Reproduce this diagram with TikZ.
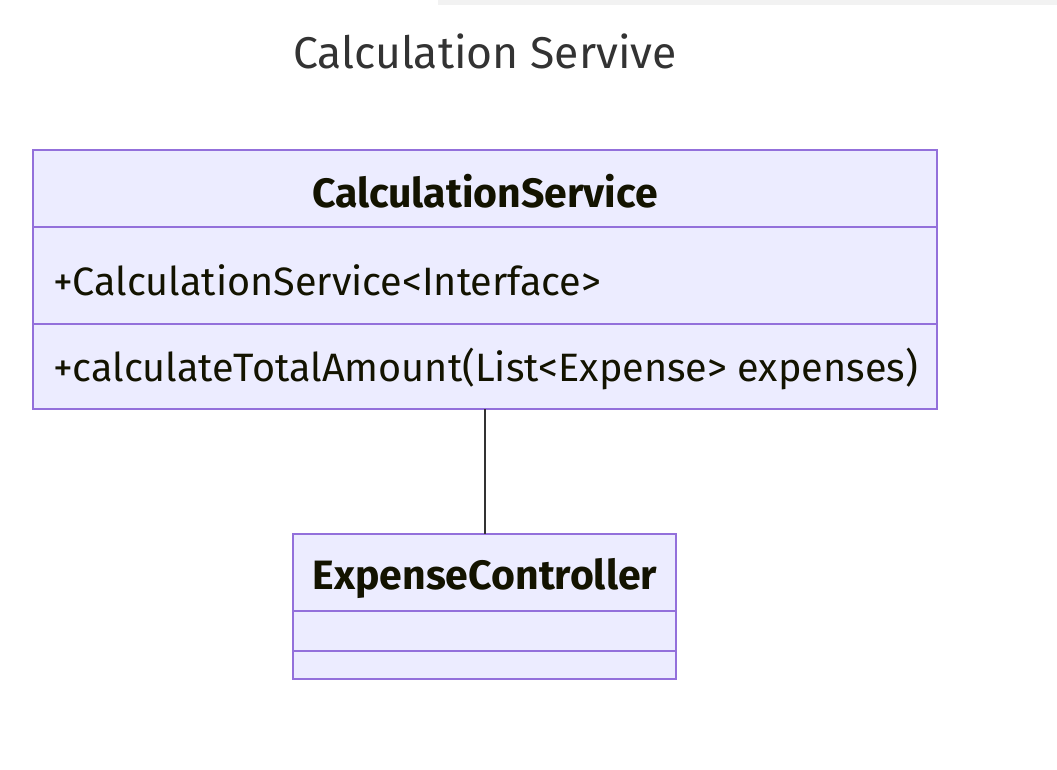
\documentclass[tikz,border=0pt]{standalone}
\usepackage{fontspec}
\setmainfont{Fira Sans}
\definecolor{boxfill}{HTML}{ECECFF}
\definecolor{boxline}{HTML}{9370DB}
\definecolor{conn}{HTML}{333333}
\definecolor{txt}{HTML}{131300}
\definecolor{strip}{HTML}{F2F2F2}
\begin{document}
\begin{tikzpicture}[x=1pt,y=-1pt,
  classbox/.style={draw=boxline,fill=boxfill,line width=2pt},
  divider/.style={draw=boxline,line width=2pt},
  classname/.style={font=\fontsize{41}{48}\selectfont\bfseries,text=txt,inner sep=0pt},
  member/.style={font=\fontsize{39.6}{46}\selectfont,text=txt,inner sep=0pt,anchor=west},
  titletext/.style={font=\fontsize{44.5}{52}\selectfont,text=conn,inner sep=0pt}]
\useasboundingbox (0,0) rectangle (1057,770);
\fill[white] (0,0) rectangle (1057,770);
\fill[strip] (438,0) rectangle (1057,5);
\node[titletext] (title) at (485,51) {Calculation Servive};
% CalculationService
\draw[classbox] (33,150) rectangle (937,409);
\coordinate (cs-top) at (485,150);
\coordinate (cs-bot) at (485,409);
\draw[divider] (33,227) -- (937,227);
\draw[divider] (33,324) -- (937,324);
\node[classname] (csname) at (485,191) {CalculationService};
\node[member] (csattr) at (53,280) {+CalculationService<Interface>};
\node[member] (csmeth) at (53,369) {+calculateTotalAmount(List<Expense> expenses)};
% ExpenseController
\draw[classbox] (293,534) rectangle (676,679);
\coordinate (ec-top) at (485,534);
\draw[divider] (293,611) -- (676,611);
\draw[divider] (293,651) -- (676,651);
\node[classname] (ecname) at (485,578) {ExpenseController};
% connector
\draw[conn,line width=2pt] (cs-bot) -- (ec-top);
\end{tikzpicture}
\end{document}
